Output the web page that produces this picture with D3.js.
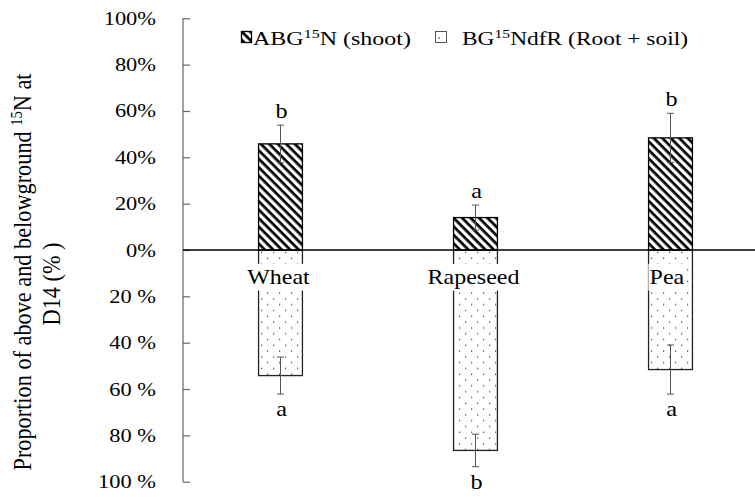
<!DOCTYPE html>
<html><head><meta charset="utf-8">
<script src="https://cdn.jsdelivr.net/npm/d3@7"></script>
<style>html,body{margin:0;padding:0;background:#fff;}svg{display:block;} text{font-family:"Liberation Serif","Times New Roman",serif;}</style>
</head><body>
<script>
// ---- data ----
const categories = ["Wheat", "Rapeseed", "Pea"];
const aboveValues = [45.8, 14.0, 48.4];   // ABG15N (shoot), %
const aboveErrors = [8.1, 5.4, 10.6];
const belowValues = [54.2, 86.5, 51.6];   // BG15NdfR (Root + soil), %
const belowErrors = [8.0, 7.0, 10.6];
const aboveLetters = ["b", "a", "b"];
const belowLetters = ["a", "b", "a"];
const tickValues = [100, 80, 60, 40, 20, 0, -20, -40, -60, -80, -100];
const tickLabels = ["100%", "80%", "60%", "40%", "20%", "0%", "20 %", "40 %", "60 %", "80 %", "100 %"];

// ---- layout ----
const W = 755, H = 497;
const SX = 1.2;
const svg = d3.select("body").append("svg").attr("width", W).attr("height", H);

const y = d3.scaleLinear().domain([-100, 100]).range([481.7, 18.3]);
const x = d3.scaleBand().domain(categories).range([183, 768])
  .paddingInner(0.775).paddingOuter(0.3875);
const axisX = 183;

const defs = svg.append("defs");
const hatch = defs.append("pattern").attr("id", "hatch").attr("patternUnits", "userSpaceOnUse")
  .attr("width", 6).attr("height", 6).attr("patternTransform", "rotate(45)");
hatch.append("rect").attr("width", 6).attr("height", 6).attr("fill", "#fff");
hatch.append("rect").attr("width", 6).attr("height", 2.7).attr("fill", "#000");
const dots = defs.append("pattern").attr("id", "dots").attr("patternUnits", "userSpaceOnUse")
  .attr("width", 12).attr("height", 11.6).attr("x", 1).attr("y", 0);
dots.append("rect").attr("width", 12).attr("height", 11.6).attr("fill", "#fff");
dots.append("rect").attr("x", 2).attr("y", 2.5).attr("width", 1.2).attr("height", 1.2).attr("fill", "#333");
dots.append("rect").attr("x", 8).attr("y", 8.3).attr("width", 1.2).attr("height", 1.2).attr("fill", "#333");

// ---- y axis ----
const yAxis = d3.axisRight(y).tickValues(tickValues).tickSize(7).tickFormat("");
const ga = svg.append("g").attr("transform", `translate(${axisX},0)`).call(yAxis);
ga.select(".domain").remove();
ga.selectAll(".tick line").attr("stroke", "#666").attr("stroke-width", 1.2);
ga.append("line").attr("x1", 0).attr("x2", 0).attr("y1", y(100)).attr("y2", y(-100))
  .attr("stroke", "#666").attr("stroke-width", 1.2);

svg.append("g").selectAll("text").data(tickValues).join("text")
  .attr("transform", d => `translate(156,${y(d) + 6.5}) scale(${SX},1)`)
  .attr("text-anchor", "end").attr("font-size", 18.7).attr("fill", "#000")
  .text((d, i) => tickLabels[i]);

// axis title
const title = svg.append("g");
title.append("text")
  .attr("transform", `translate(31,272) rotate(-90) scale(1,1.15)`)
  .attr("text-anchor", "middle").attr("font-size", 22.3)
  .call(t => {
    t.append("tspan").text("Proportion of above and belowground ");
    t.append("tspan").attr("font-size", 14.5).attr("dy", -8).text("15");
    t.append("tspan").attr("dy", 8).text("N at");
  });
title.append("text")
  .attr("transform", `translate(60,284) rotate(-90) scale(1,1.15)`)
  .attr("text-anchor", "middle").attr("font-size", 22.3)
  .text("D14 (% )");

// ---- bars ----
const bars = svg.append("g");
bars.selectAll("rect.below").data(categories).join("rect").attr("class", "below")
  .attr("x", d => x(d)).attr("width", x.bandwidth())
  .attr("y", y(0)).attr("height", (d, i) => y(-belowValues[i]) - y(0))
  .attr("fill", "url(#dots)").attr("stroke", "#222").attr("stroke-width", 1.3);
bars.selectAll("rect.above").data(categories).join("rect").attr("class", "above")
  .attr("x", d => x(d)).attr("width", x.bandwidth())
  .attr("y", (d, i) => y(aboveValues[i])).attr("height", (d, i) => y(0) - y(aboveValues[i]))
  .attr("fill", "url(#hatch)").attr("stroke", "#000").attr("stroke-width", 1.3);

// category labels with white boxes
const labelAnchor = ["middle", "middle", "start"];
const labelX = (d, i) => labelAnchor[i] === "start" ? x(d) + 1 : x(d) + x.bandwidth() / 2 - 2;
categories.forEach((c, i) => {
  const g = svg.append("g").attr("transform", `translate(${labelX(c, i)},284) scale(${SX},1)`);
  const t = g.append("text").attr("text-anchor", labelAnchor[i]).attr("font-size", 20).text(c);
  const bb = t.node().getBBox();
  g.insert("rect", "text").attr("x", bb.x - 1).attr("y", bb.y - 2)
    .attr("width", bb.width + 2).attr("height", bb.height + 4).attr("fill", "#fff");
});

// zero line
svg.append("line").attr("x1", axisX).attr("x2", W).attr("y1", y(0)).attr("y2", y(0))
  .attr("stroke", "#000").attr("stroke-width", 1.6);

// error bars
const eb = svg.append("g").attr("stroke", "#555").attr("stroke-width", 1);
const cx = d => x(d) + x.bandwidth() / 2;
function errBar(xc, v, e) {
  eb.append("line").attr("x1", xc).attr("x2", xc).attr("y1", y(v - e)).attr("y2", y(v + e));
  [v - e, v + e].forEach(w => eb.append("line").attr("x1", xc - 3.5).attr("x2", xc + 3.5)
    .attr("y1", y(w)).attr("y2", y(w)));
}
categories.forEach((c, i) => {
  errBar(cx(c), aboveValues[i], aboveErrors[i]);
  errBar(cx(c), -belowValues[i], belowErrors[i]);
});

// significance letters
svg.append("g").selectAll("text").data(categories).join("text")
  .attr("transform", (d, i) => `translate(${cx(d) + 1},${y(aboveValues[i] + aboveErrors[i]) - 7}) scale(1.1,1)`)
  .attr("text-anchor", "middle").attr("font-size", 22).text((d, i) => aboveLetters[i]);
svg.append("g").selectAll("text").data(categories).join("text")
  .attr("transform", (d, i) => `translate(${cx(d) + 1},${y(-belowValues[i] - belowErrors[i]) + 22}) scale(1.1,1)`)
  .attr("text-anchor", "middle").attr("font-size", 22).text((d, i) => belowLetters[i]);

// ---- legend ----
const leg = svg.append("g");
leg.append("rect").attr("x", 241.5).attr("y", 31.5).attr("width", 10).attr("height", 11)
  .attr("fill", "url(#hatch)").attr("stroke", "#000").attr("stroke-width", 1.3);
leg.append("rect").attr("x", 435.5).attr("y", 31.5).attr("width", 11).attr("height", 11)
  .attr("fill", "#fff").attr("stroke", "#555").attr("stroke-width", 1);
leg.append("rect").attr("x", 438.5).attr("y", 37.5).attr("width", 1.3).attr("height", 1.3).attr("fill", "#333");

function legendText(x0, base, targetW, parts) {
  const g = leg.append("g");
  const t = g.append("text").attr("font-size", 18.7);
  parts.forEach(p => {
    const s = t.append("tspan").text(p.t);
    if (p.sup) s.attr("font-size", 12.5).attr("dy", -7);
    if (p.down) s.attr("dy", 7);
  });
  const w = t.node().getBBox().width;
  g.attr("transform", `translate(${x0},${base}) scale(${targetW / w},1)`);
}
legendText(253, 45, 158, [{t: "ABG"}, {t: "15", sup: true}, {t: "N (shoot)", down: true}]);
legendText(462, 45, 226, [{t: "BG"}, {t: "15", sup: true}, {t: "NdfR (Root + soil)", down: true}]);
</script>
</body></html>
